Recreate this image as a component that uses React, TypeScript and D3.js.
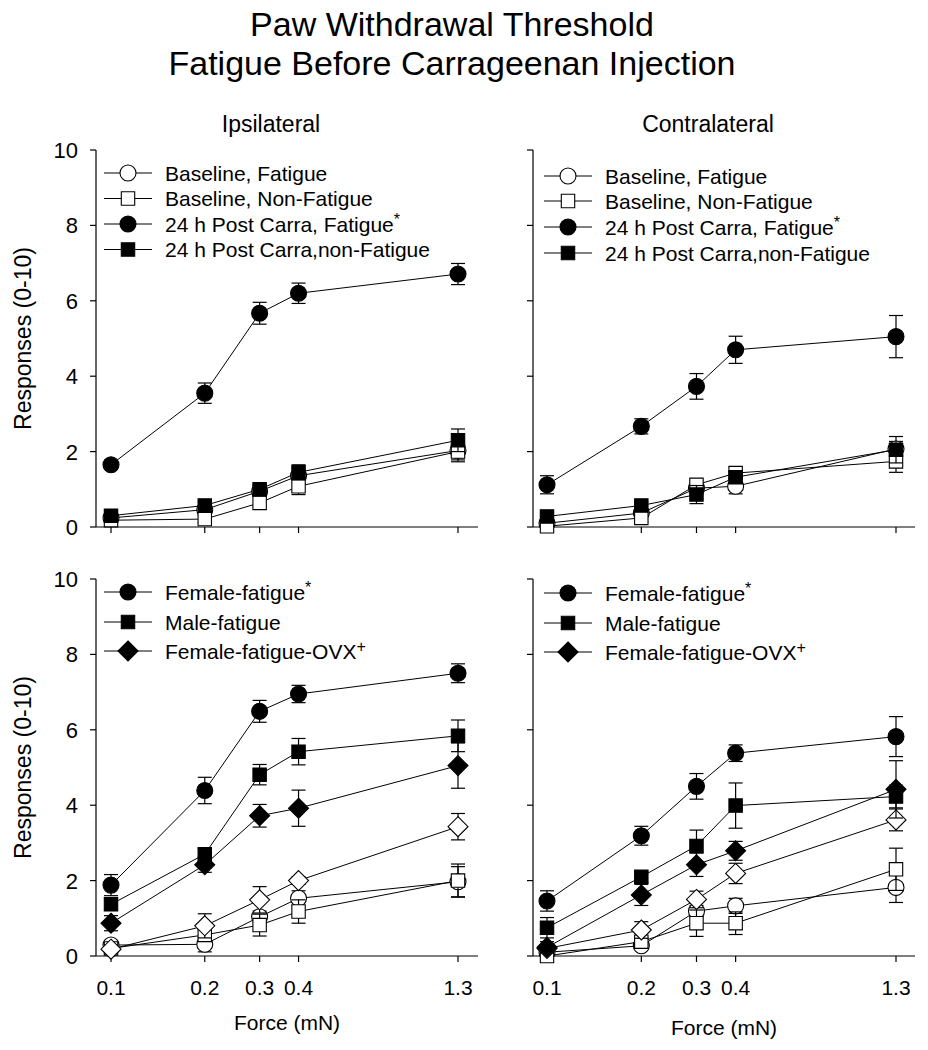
import React from "react";
import * as d3 from "d3";

const forces = [0.1, 0.2, 0.3, 0.4, 1.3];
const forceLabels = ["0.1", "0.2", "0.3", "0.4", "1.3"];
const yTicks = [0, 2, 4, 6, 8, 10];

// Top-left: Ipsilateral
const ipsiBaseFat = [0.24, 0.46, 0.95, 1.36, 2.03];
const ipsiBaseFatErr = [0.1, 0.1, 0.15, 0.2, 0.25];
const ipsiBaseNon = [0.18, 0.21, 0.64, 1.08, 2.0];
const ipsiBaseNonErr = [0.1, 0.1, 0.18, 0.22, 0.27];
const ipsiPostFat = [1.65, 3.55, 5.67, 6.2, 6.71];
const ipsiPostFatErr = [0.12, 0.27, 0.29, 0.27, 0.28];
const ipsiPostNon = [0.3, 0.57, 1.0, 1.45, 2.3];
const ipsiPostNonErr = [0.1, 0.1, 0.12, 0.2, 0.3];

// Top-right: Contralateral
const contraBaseFat = [0.1, 0.37, 1.03, 1.08, 2.07];
const contraBaseFatErr = [0.1, 0.1, 0.15, 0.2, 0.2];
const contraBaseNon = [0.02, 0.24, 1.12, 1.43, 1.74];
const contraBaseNonErr = [0.05, 0.1, 0.12, 0.15, 0.29];
const contraPostFat = [1.12, 2.67, 3.73, 4.7, 5.05];
const contraPostFatErr = [0.24, 0.2, 0.34, 0.36, 0.56];
const contraPostNon = [0.28, 0.57, 0.86, 1.32, 2.05];
const contraPostNonErr = [0.1, 0.1, 0.24, 0.15, 0.35];

// Bottom-left
const blFemale = [1.88, 4.39, 6.49, 6.95, 7.5];
const blFemaleErr = [0.28, 0.35, 0.29, 0.23, 0.25];
const blMale = [1.37, 2.7, 4.81, 5.42, 5.84];
const blMaleErr = [0.15, 0.15, 0.27, 0.35, 0.42];
const blOvx = [0.87, 2.42, 3.72, 3.92, 5.05];
const blOvxErr = [0.2, 0.2, 0.3, 0.48, 0.6];
const blFemaleBase = [0.29, 0.31, 1.04, 1.53, 1.97];
const blFemaleBaseErr = [0.1, 0.2, 0.15, 0.2, 0.4];
const blMaleBase = [0.2, 0.56, 0.82, 1.18, 2.0];
const blMaleBaseErr = [0.1, 0.15, 0.29, 0.31, 0.44];
const blOvxBase = [0.18, 0.8, 1.49, 2.0, 3.43];
const blOvxBaseErr = [0.1, 0.32, 0.35, 0.1, 0.35];

// Bottom-right
const brFemale = [1.46, 3.19, 4.5, 5.38, 5.82];
const brFemaleErr = [0.27, 0.25, 0.34, 0.22, 0.53];
const brMale = [0.75, 2.1, 2.92, 3.99, 4.23];
const brMaleErr = [0.27, 0.15, 0.42, 0.6, 0.3];
const brOvx = [0.23, 1.62, 2.42, 2.79, 4.42];
const brOvxErr = [0.15, 0.28, 0.31, 0.25, 0.76];
const brFemaleBase = [0.1, 0.27, 1.19, 1.33, 1.82];
const brFemaleBaseErr = [0.05, 0.1, 0.15, 0.2, 0.4];
const brMaleBase = [0.0, 0.38, 0.87, 0.87, 2.3];
const brMaleBaseErr = [0.05, 0.1, 0.35, 0.3, 0.56];
const brOvxBase = [0.2, 0.69, 1.5, 2.19, 3.61];
const brOvxBaseErr = [0.1, 0.22, 0.22, 0.27, 0.29];

const topLegend = [
  { label: "Baseline, Fatigue", sup: "", shape: "circle", filled: false },
  { label: "Baseline, Non-Fatigue", sup: "", shape: "square", filled: false },
  { label: "24 h Post Carra, Fatigue", sup: "*", shape: "circle", filled: true },
  { label: "24 h Post Carra,non-Fatigue", sup: "", shape: "square", filled: true },
];
const bottomLegend = [
  { label: "Female-fatigue", sup: "*", shape: "circle", filled: true },
  { label: "Male-fatigue", sup: "", shape: "square", filled: true },
  { label: "Female-fatigue-OVX", sup: "+", shape: "diamond", filled: true },
];

type Series = { values: number[]; err: number[]; shape: string; filled: boolean };

const FONT = "'Liberation Sans', Arial, Helvetica, sans-serif";

function markerPath(shape: string, cx: number, cy: number) {
  if (shape === "circle") {
    const r = 8;
    return `M${cx - r},${cy}A${r},${r} 0 1,0 ${cx + r},${cy}A${r},${r} 0 1,0 ${cx - r},${cy}Z`;
  }
  if (shape === "square") {
    const h = 6.7;
    return `M${cx - h},${cy - h}H${cx + h}V${cy + h}H${cx - h}Z`;
  }
  const d = 10;
  return `M${cx},${cy - d}L${cx + d},${cy}L${cx},${cy + d}L${cx - d},${cy}Z`;
}

function Panel(props: {
  axisX: number; xEnd: number; yTop: number; yBottom: number;
  xr: [number, number]; series: Series[]; legend: typeof topLegend;
  legendX: number; legendRows: number[]; showYLabels: boolean; showXLabels: boolean;
  xTitleY: number;
}) {
  const { axisX, xEnd, yTop, yBottom, xr, series, legend, legendX, legendRows, showYLabels, showXLabels, xTitleY } = props;
  const x = d3.scaleLog().domain([0.1, 1.3]).range(xr);
  const y = d3.scaleLinear().domain([0, 10]).range([yBottom, yTop]);
  const line = d3.line<number>().x((_, i) => x(forces[i])).y((v) => y(v));
  return (
    <g>
      {/* axes */}
      <line x1={axisX} x2={axisX} y1={yTop} y2={yBottom} stroke="#000" strokeWidth={1.2} />
      <line x1={axisX} x2={xEnd} y1={yBottom} y2={yBottom} stroke="#000" strokeWidth={1.2} />
      {yTicks.map((t) => (
        <g key={"yt" + t}>
          <line x1={axisX - 6} x2={axisX} y1={y(t)} y2={y(t)} stroke="#000" strokeWidth={1.2} />
          {showYLabels && (
            <text x={axisX - 18} y={y(t) + 8} textAnchor="end" fontSize={22} fontFamily={FONT}>{t}</text>
          )}
        </g>
      ))}
      {forces.map((f, i) => (
        <g key={"xt" + i}>
          <line x1={x(f)} x2={x(f)} y1={yBottom} y2={yBottom + 6} stroke="#000" strokeWidth={1.2} />
          {showXLabels && (
            <text x={x(f)} y={yBottom + 39} textAnchor="middle" fontSize={21} fontFamily={FONT}>{forceLabels[i]}</text>
          )}
        </g>
      ))}
      {showXLabels && (
        <text x={(axisX + xEnd) / 2} y={xTitleY} textAnchor="middle" fontSize={21} fontFamily={FONT}>Force (mN)</text>
      )}
      {/* lines */}
      {series.map((s, si) => (
        <path key={"l" + si} d={line(s.values) || ""} fill="none" stroke="#000" strokeWidth={1} />
      ))}
      {/* series error bars and markers */}
      {series.map((s, si) => (
        <g key={"s" + si}>
          {s.values.map((v, i) => {
            const cx = x(forces[i]);
            const e = s.err[i];
            return (
              <g key={i}>
                <line x1={cx} x2={cx} y1={y(v + e)} y2={y(Math.max(v - e, -0.05))} stroke="#000" strokeWidth={1.2} />
                <line x1={cx - 7} x2={cx + 7} y1={y(v + e)} y2={y(v + e)} stroke="#000" strokeWidth={1.2} />
                {v - e > -0.05 && (
                  <line x1={cx - 7} x2={cx + 7} y1={y(v - e)} y2={y(v - e)} stroke="#000" strokeWidth={1.2} />
                )}
              </g>
            );
          })}
          {s.values.map((v, i) => (
            <path key={"m" + i} d={markerPath(s.shape, x(forces[i]), y(v))}
              fill={s.filled ? "#000" : "#fff"} stroke="#000" strokeWidth={1.1} />
          ))}
        </g>
      ))}
      {/* legend */}
      {legend.map((l, i) => (
        <g key={"lg" + i}>
          <line x1={legendX - 24} x2={legendX + 24} y1={legendRows[i]} y2={legendRows[i]} stroke="#000" strokeWidth={1} />
          <path d={markerPath(l.shape, legendX, legendRows[i])} fill={l.filled ? "#000" : "#fff"} stroke="#000" strokeWidth={1.1} />
          <text x={legendX + 37} y={legendRows[i] + 7.5} fontSize={21} fontFamily={FONT}>
            {l.label}
            {l.sup && <tspan fontSize={16} dy={-7}>{l.sup}</tspan>}
          </text>
        </g>
      ))}
    </g>
  );
}

export default function App() {
  const s = (values: number[], err: number[], shape: string, filled: boolean): Series => ({ values, err, shape, filled });
  const tlSeries = [
    s(ipsiBaseFat, ipsiBaseFatErr, "circle", false),
    s(ipsiBaseNon, ipsiBaseNonErr, "square", false),
    s(ipsiPostFat, ipsiPostFatErr, "circle", true),
    s(ipsiPostNon, ipsiPostNonErr, "square", true),
  ];
  const trSeries = [
    s(contraBaseFat, contraBaseFatErr, "circle", false),
    s(contraBaseNon, contraBaseNonErr, "square", false),
    s(contraPostFat, contraPostFatErr, "circle", true),
    s(contraPostNon, contraPostNonErr, "square", true),
  ];
  const blSeries = [
    s(blFemaleBase, blFemaleBaseErr, "circle", false),
    s(blMaleBase, blMaleBaseErr, "square", false),
    s(blOvxBase, blOvxBaseErr, "diamond", false),
    s(blFemale, blFemaleErr, "circle", true),
    s(blMale, blMaleErr, "square", true),
    s(blOvx, blOvxErr, "diamond", true),
  ];
  const brSeries = [
    s(brFemaleBase, brFemaleBaseErr, "circle", false),
    s(brMaleBase, brMaleBaseErr, "square", false),
    s(brOvxBase, brOvxBaseErr, "diamond", false),
    s(brFemale, brFemaleErr, "circle", true),
    s(brMale, brMaleErr, "square", true),
    s(brOvx, brOvxErr, "diamond", true),
  ];
  return (
    <svg width={928} height={1050} style={{ position: "absolute", left: 0, top: 0, background: "#fff" }}>
      <rect width={928} height={1050} fill="#fff" />
      <text x={452} y={36} textAnchor="middle" fontSize={34} fontFamily={FONT}>Paw Withdrawal Threshold</text>
      <text x={452} y={75} textAnchor="middle" fontSize={34} fontFamily={FONT}>Fatigue Before Carrageenan Injection</text>
      <text x={271} y={132} textAnchor="middle" fontSize={23} fontFamily={FONT}>Ipsilateral</text>
      <text x={708} y={132} textAnchor="middle" fontSize={23} fontFamily={FONT}>Contralateral</text>
      <text transform="translate(31,338.5) rotate(-90)" textAnchor="middle" fontSize={23} fontFamily={FONT}>Responses (0-10)</text>
      <text transform="translate(31,767.5) rotate(-90)" textAnchor="middle" fontSize={23} fontFamily={FONT}>Responses (0-10)</text>
      <Panel axisX={96} xEnd={478} yTop={150} yBottom={527} xr={[111, 458]} series={tlSeries}
        legend={topLegend} legendX={128} legendRows={[173, 198.5, 224, 249.5]} showYLabels={true} showXLabels={false} xTitleY={0} />
      <Panel axisX={533} xEnd={915} yTop={150} yBottom={527} xr={[547, 896]} series={trSeries}
        legend={topLegend} legendX={568} legendRows={[176, 201, 227, 253]} showYLabels={false} showXLabels={false} xTitleY={0} />
      <Panel axisX={96} xEnd={478} yTop={579} yBottom={956} xr={[111, 458]} series={blSeries}
        legend={bottomLegend} legendX={128} legendRows={[592, 622, 651]} showYLabels={true} showXLabels={true} xTitleY={1030} />
      <Panel axisX={533} xEnd={915} yTop={579} yBottom={956} xr={[547, 896]} series={brSeries}
        legend={bottomLegend} legendX={568} legendRows={[593, 623, 652]} showYLabels={false} showXLabels={true} xTitleY={1035} />
    </svg>
  );
}
